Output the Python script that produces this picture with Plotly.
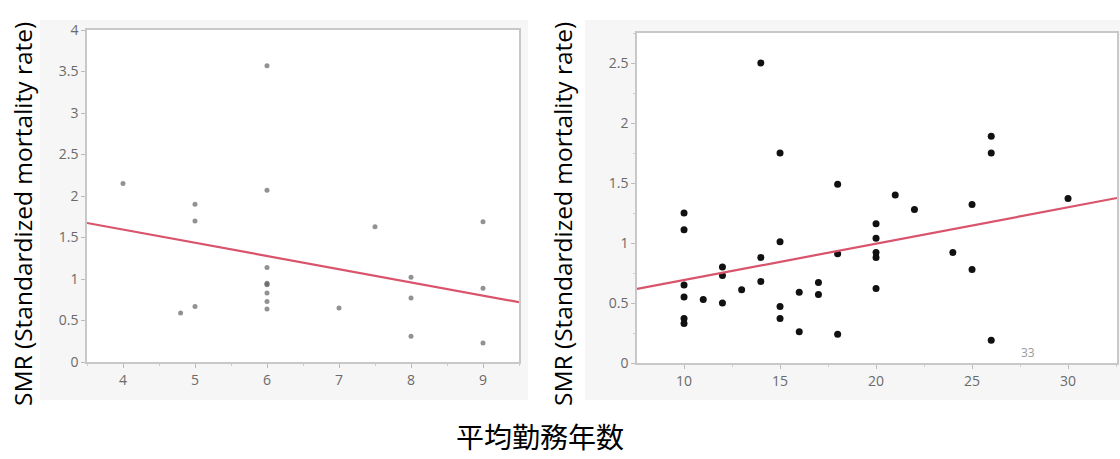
import plotly.graph_objects as go

# Left panel data
left_x = [4, 4.8, 5, 5, 5, 6, 6, 6, 6, 6, 6, 6, 6, 6, 7, 7.5, 8, 8, 8, 9, 9, 9]
left_y = [2.15, 0.59, 1.90, 1.70, 0.67, 3.57, 2.07, 1.14, 0.95, 0.93, 0.94, 0.83, 0.73, 0.64,
          0.65, 1.63, 1.02, 0.77, 0.31, 1.69, 0.89, 0.23]
left_fit_x = [3.5, 9.5]
left_fit_y = [1.675, 0.72]

# Right panel data
right_x = [14, 15, 18, 10, 10, 10, 10, 10, 10, 11, 12, 12, 12, 13, 14, 14, 15, 15, 15,
           16, 16, 17, 17, 18, 18, 21, 22, 20, 20, 20, 20, 20, 24, 25, 25, 26, 26, 26, 30]
right_y = [2.50, 1.75, 1.49, 1.25, 1.11, 0.65, 0.55, 0.37, 0.33, 0.53, 0.80, 0.73, 0.50, 0.61,
           0.88, 0.68, 1.01, 0.47, 0.37, 0.59, 0.26, 0.67, 0.57, 0.91, 0.24, 1.40, 1.28,
           1.16, 1.04, 0.92, 0.88, 0.62, 0.92, 1.32, 0.78, 1.89, 1.75, 0.19, 1.37]
right_fit_x = [7.55, 32.55]
right_fit_y = [0.617, 1.375]

left_xticks = [4, 5, 6, 7, 8, 9]
left_yticks = [0, 0.5, 1, 1.5, 2, 2.5, 3, 3.5, 4]
left_yticklabels = ["0", "0.5", "1", "1.5", "2", "2.5", "3", "3.5", "4"]
right_xticks = [10, 15, 20, 25, 30]
right_yticks = [0, 0.5, 1, 1.5, 2, 2.5]
right_yticklabels = ["0", "0.5", "1", "1.5", "2", "2.5"]

y_title = "SMR (Standardized mortality rate)"
x_title = "平均勤務年数"
count_label = "33"

W, H = 1120, 459
def px(x):
    return x / W
def py(y):
    return 1 - y / H

fig = go.Figure()

fig.add_trace(go.Scatter(x=left_x, y=left_y, mode="markers", xaxis="x", yaxis="y",
                         marker=dict(size=5, color="rgba(110,110,110,0.75)"), showlegend=False))
fig.add_trace(go.Scatter(x=left_fit_x, y=left_fit_y, mode="lines", xaxis="x", yaxis="y",
                         line=dict(color="#d9536b", width=2.2), showlegend=False))
fig.add_trace(go.Scatter(x=right_x, y=right_y, mode="markers", xaxis="x2", yaxis="y2",
                         marker=dict(size=7, color="#111111"), showlegend=False))
fig.add_trace(go.Scatter(x=right_fit_x, y=right_fit_y, mode="lines", xaxis="x2", yaxis="y2",
                         line=dict(color="#d9536b", width=2.2), showlegend=False))

axis_common = dict(showgrid=False, zeroline=False, showline=True, linecolor="#c8c8c8",
                   linewidth=1.5, mirror=True, ticks="outside", ticklen=4, tickcolor="#bbbbbb",
                   automargin=False,
                   tickfont=dict(family="Open Sans, sans-serif", size=14, color="#6a6a6a"))

fig.update_layout(
    width=W, height=H,
    margin=dict(l=0, r=0, t=0, b=0, autoexpand=False),
    paper_bgcolor="white",
    plot_bgcolor="white",
    xaxis=dict(domain=[px(87), px(519)], range=[3.5, 9.5], anchor="y",
               tickvals=left_xticks, minor=dict(ticks="outside", ticklen=2, dtick=0.5, tickcolor="#cccccc"),
               **axis_common),
    yaxis=dict(domain=[py(362), py(30)], range=[0, 4], anchor="x",
               tickvals=left_yticks, ticktext=left_yticklabels, **axis_common),
    xaxis2=dict(domain=[px(637), px(1117)], range=[7.55, 32.55], anchor="y2",
                tickvals=right_xticks, minor=dict(ticks="outside", ticklen=2, dtick=2.5, tickcolor="#cccccc"),
                **axis_common),
    yaxis2=dict(domain=[py(363), py(33)], range=[0, 2.75], anchor="x2",
                tickvals=right_yticks, ticktext=right_yticklabels,
                minor=dict(ticks="outside", ticklen=2, dtick=0.25, tickcolor="#cccccc"),
                **axis_common),
    shapes=[
        dict(type="rect", xref="paper", yref="paper", x0=px(40), x1=px(528), y0=py(400), y1=py(20),
             fillcolor="#f6f6f6", line=dict(width=0), layer="below"),
        dict(type="rect", xref="paper", yref="paper", x0=px(585), x1=px(1120), y0=py(400), y1=py(20),
             fillcolor="#f6f6f6", line=dict(width=0), layer="below"),
        dict(type="rect", xref="paper", yref="paper", x0=px(87), x1=px(519), y0=py(362), y1=py(30),
             fillcolor="white", line=dict(width=0), layer="below"),
        dict(type="rect", xref="paper", yref="paper", x0=px(637), x1=px(1117), y0=py(363), y1=py(33),
             fillcolor="white", line=dict(width=0), layer="below"),
    ],
    annotations=[
        dict(text=y_title, xref="paper", yref="paper", x=px(22), y=py(214), textangle=-90,
             showarrow=False, font=dict(family="Open Sans, sans-serif", size=24.5, color="black"),
             xanchor="center", yanchor="middle"),
        dict(text=y_title, xref="paper", yref="paper", x=px(562), y=py(214), textangle=-90,
             showarrow=False, font=dict(family="Open Sans, sans-serif", size=24.5, color="black"),
             xanchor="center", yanchor="middle"),
        dict(text=x_title, xref="paper", yref="paper", x=px(540), y=py(458),
             showarrow=False, font=dict(family="Noto Sans CJK JP, sans-serif", size=28, color="black"),
             xanchor="center", yanchor="bottom"),
        dict(text=count_label, xref="x2", yref="y2", x=27.9, y=0.09, showarrow=False,
             font=dict(family="Open Sans, sans-serif", size=12, color="#999999"),
             xanchor="center", yanchor="middle"),
    ],
)

fig.write_html("out.html", config={"displayModeBar": False},
               post_script="document.body.style.margin='0';document.body.style.padding='0';")
